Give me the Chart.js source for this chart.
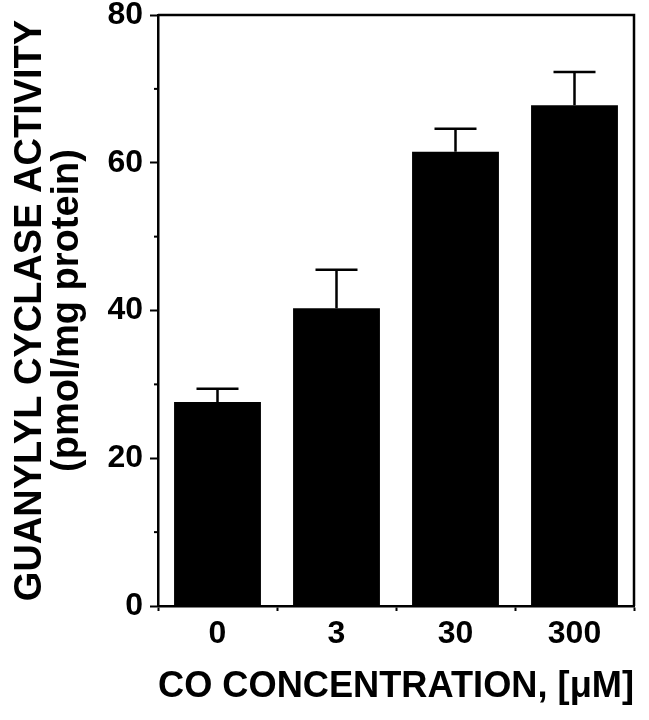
<!DOCTYPE html>
<html>
<head>
<meta charset="utf-8">
<script src="https://cdn.jsdelivr.net/npm/chart.js@4"></script>
<style>
  html, body { margin: 0; padding: 0; background: #fff; }
  #chart { display: block; }
</style>
</head>
<body>
<canvas id="chart" width="649" height="720"></canvas>
<script>
const concentrations = ["0", "3", "30", "300"];
const activity = [27.6, 40.3, 61.5, 67.8];
const activityErr = [1.8, 5.2, 3.1, 4.5];
const minorTicks = [10, 30, 50, 70];

const FONT = "'Liberation Sans', Arial, Helvetica, sans-serif";

// box around plot, minor y ticks and upward error bars
const extras = {
  id: "extras",
  afterDatasetsDraw(chart) {
    const ctx = chart.ctx;
    const area = chart.chartArea;
    const y = chart.scales.y;
    ctx.save();
    ctx.strokeStyle = "#000";
    ctx.lineWidth = 2.5;
    ctx.beginPath();
    ctx.moveTo(area.left, area.top);
    ctx.lineTo(area.right, area.top);
    ctx.lineTo(area.right, area.bottom);
    ctx.stroke();

    ctx.lineWidth = 2;
    minorTicks.forEach(v => {
      const py = y.getPixelForValue(v);
      ctx.beginPath();
      ctx.moveTo(area.left - 4, py);
      ctx.lineTo(area.left, py);
      ctx.stroke();
    });

    const meta = chart.getDatasetMeta(0);
    ctx.lineWidth = 2.5;
    meta.data.forEach((bar, i) => {
      const top = y.getPixelForValue(activity[i] + activityErr[i]);
      ctx.beginPath();
      ctx.moveTo(bar.x, bar.y);
      ctx.lineTo(bar.x, top);
      ctx.moveTo(bar.x - 21, top);
      ctx.lineTo(bar.x + 21, top);
      ctx.stroke();
    });
    ctx.restore();
  }
};

new Chart(document.getElementById("chart"), {
  type: "bar",
  data: {
    labels: concentrations,
    datasets: [{
      data: activity,
      backgroundColor: "#000",
      borderWidth: 0,
      barPercentage: 0.73,
      categoryPercentage: 1.0
    }]
  },
  options: {
    responsive: false,
    animation: false,
    layout: { padding: { top: 15, right: 15, left: 0, bottom: 0 } },
    plugins: { legend: { display: false }, tooltip: { enabled: false } },
    scales: {
      x: {
        afterFit: s => { s.height = 114; },
        border: { display: true, color: "#000", width: 2.5 },
        grid: { drawOnChartArea: false, offset: true, tickLength: 5, tickColor: "#000", tickWidth: 2 },
        ticks: { color: "#000", padding: 4, font: { family: FONT, size: 32, weight: "bold" } },
        title: {
          display: true,
          text: "CO CONCENTRATION, [\u03BCM]",
          color: "#000",
          padding: { top: 4, bottom: 11 },
          font: { family: FONT, size: 37, weight: "bold" }
        }
      },
      y: {
        min: 0,
        max: 80,
        afterFit: s => { s.width = 158; },
        border: { display: true, color: "#000", width: 2.5 },
        grid: { drawOnChartArea: false, tickLength: 8, tickColor: "#000", tickWidth: 2 },
        ticks: { stepSize: 20, color: "#000", padding: 7, font: { family: FONT, size: 32, weight: "bold", lineHeight: 0.5 } },
        title: {
          display: true,
          text: ["GUANYLYL CYCLASE ACTIVITY", "(pmol/mg protein)"],
          color: "#000",
          padding: { top: 12, bottom: 0 },
          font: { family: FONT, size: 38, weight: "bold", lineHeight: 0.97 }
        }
      }
    }
  },
  plugins: [extras]
});
</script>
</body>
</html>
